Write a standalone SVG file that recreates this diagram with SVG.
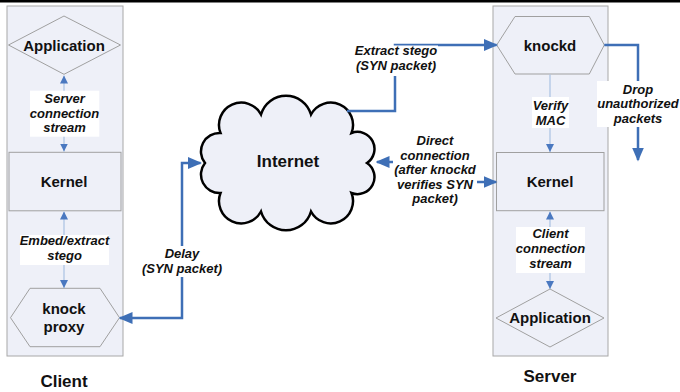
<svg xmlns="http://www.w3.org/2000/svg" width="680" height="392" viewBox="0 0 680 392">
<style>
.col{fill:#eef0f8;stroke:#a8a8a8;stroke-width:1}
.shape{fill:#eef0f8;stroke:#a0a0a0;stroke-width:1}
.node{font-family:"Liberation Sans",Arial,sans-serif;font-weight:bold;font-size:15px;text-anchor:middle;fill:#111}
.big{font-size:17px}
.lbl{font-family:"Liberation Sans",Arial,sans-serif;font-weight:bold;font-style:italic;font-size:13px;text-anchor:middle;fill:#111}
.bg{fill:#fff}
.main{fill:none;stroke:#3e6fb6;stroke-width:2.5}
.thin{fill:none;stroke:#a9c1e3;stroke-width:1.2}
</style>
<defs>
<marker id="ah" markerUnits="userSpaceOnUse" viewBox="0 0 14 12" markerWidth="14" markerHeight="12" refX="12.5" refY="6" orient="auto-start-reverse"><path d="M0,0 L14,6 L0,12 z" fill="#3e6fb6"/></marker>
<marker id="sh" markerUnits="userSpaceOnUse" viewBox="0 0 8 8" markerWidth="8" markerHeight="8" refX="8" refY="4" orient="auto-start-reverse"><path d="M0,0 L8,4 L0,8 z" fill="#4a78c0"/></marker>
</defs>
<rect x="0" y="0" width="680" height="2.5" fill="#000"/>

<g id="client">
<rect class="col" x="7" y="6" width="116" height="350"/>
<text class="node big" x="64" y="387">Client</text>
</g>
<g id="server">
<rect class="col" x="493" y="6" width="115" height="350"/>
<text class="node big" x="550" y="382">Server</text>
</g>

<g id="client-app">
<polygon class="shape" points="8.5,45 64,16 120.5,45 64,74.3"/>
<text class="node" x="64" y="51">Application</text>
</g>
<g id="client-kernel">
<rect class="shape" x="9" y="152.3" width="112" height="58.5"/>
<text class="node" x="64" y="187">Kernel</text>
</g>
<g id="knock-proxy">
<polygon class="shape" points="10.5,317.7 30,288.3 100,288.3 119.5,317.7 100,346.7 30,346.7"/>
<text class="node" x="64" y="314">knock</text>
<text class="node" x="64" y="332">proxy</text>
</g>

<g id="internet">
<path d="M367,163 A17,17 0 0 1 351.5,193 A22.3,22.3 0 0 1 311,211.5 A26,26 0 0 1 261,211.5 A22.3,22.3 0 0 1 220.5,193 A18.5,18.5 0 0 1 205,163 A18.5,18.5 0 0 1 220.5,133 A22.3,22.3 0 0 1 261,114.5 A26,26 0 0 1 311,114.5 A22.3,22.3 0 0 1 351.5,133 A17,17 0 0 1 367,163 Z" fill="#eef0f8" stroke="#000" stroke-width="2.5"/>
<text class="node big" x="288" y="167">Internet</text>
</g>

<g id="knockd">
<polygon class="shape" points="496.7,45 515,16.5 589.3,16.5 604.3,45 589.3,74 515,74"/>
<text class="node" x="550" y="51">knockd</text>
</g>
<g id="server-kernel">
<rect class="shape" x="496.5" y="152.5" width="107.5" height="58.2"/>
<text class="node" x="550" y="187">Kernel</text>
</g>
<g id="server-app">
<polygon class="shape" points="496,318 550,289 604,318 550,347"/>
<text class="node" x="550" y="323">Application</text>
</g>

<g id="connectors">
<path class="thin" d="M64,75.5 V151.5" marker-start="url(#sh)" marker-end="url(#sh)"/>
<path class="thin" d="M64,211.5 V288" marker-start="url(#sh)" marker-end="url(#sh)"/>
<path class="thin" d="M550,74.5 V152" marker-end="url(#sh)"/>
<path class="thin" d="M550,211.5 V289" marker-start="url(#sh)" marker-end="url(#sh)"/>
<path class="main" d="M120,318 H182 V163 H200.5" marker-start="url(#ah)" marker-end="url(#ah)"/>
<path class="main" d="M347,111 H395 V45 H496.5"  marker-end="url(#ah)"/>
<path class="main" d="M377,162 H435 V182 H496" marker-start="url(#ah)" marker-end="url(#ah)"/>
<path class="main" d="M604.3,45 H638 V160" marker-end="url(#ah)"/>

<rect class="bg" x="30" y="90.7" width="69.3" height="46"/>
<text class="lbl" x="64.5" y="103">Server</text>
<text class="lbl" x="64.5" y="117.5">connection</text>
<text class="lbl" x="64.5" y="132">stream</text>

<rect class="bg" x="20" y="235" width="89" height="30"/>
<text class="lbl" x="64.5" y="245">Embed/extract</text>
<text class="lbl" x="64.5" y="260">stego</text>

<rect class="bg" x="141" y="246" width="82" height="31"/>
<text class="lbl" x="182" y="258">Delay</text>
<text class="lbl" x="182" y="273">(SYN packet)</text>

<rect class="bg" x="353" y="45.5" width="85" height="30.5"/>
<text class="lbl" x="396" y="55">Extract stego</text>
<text class="lbl" x="396" y="70">(SYN packet)</text>

<rect class="bg" x="393" y="133" width="84" height="74"/>
<text class="lbl" x="435" y="145">Direct</text>
<text class="lbl" x="435" y="159.5">connection</text>
<text class="lbl" x="435" y="174">(after knockd</text>
<text class="lbl" x="435" y="188.5">verifies SYN</text>
<text class="lbl" x="435" y="203">packet)</text>

<rect class="bg" x="532" y="97" width="37" height="31"/>
<text class="lbl" x="550.5" y="110">Verify</text>
<text class="lbl" x="550.5" y="125">MAC</text>

<rect class="bg" x="597" y="81" width="83" height="46"/>
<text class="lbl" x="638" y="93.5">Drop</text>
<text class="lbl" x="638" y="108">unauthorized</text>
<text class="lbl" x="638" y="122.5">packets</text>

<rect class="bg" x="516" y="227" width="69" height="46"/>
<text class="lbl" x="550.5" y="238">Client</text>
<text class="lbl" x="550.5" y="253">connection</text>
<text class="lbl" x="550.5" y="268">stream</text>
</g>
</svg>
